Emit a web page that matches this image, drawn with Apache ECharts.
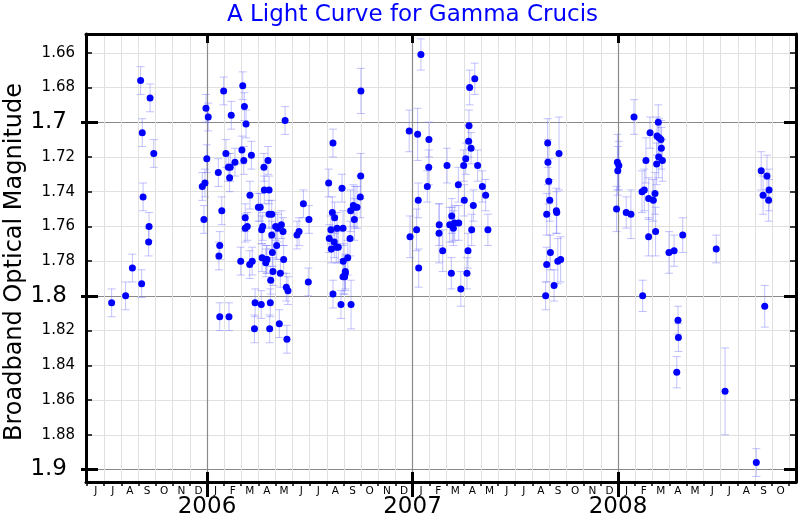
<!DOCTYPE html>
<html><head><meta charset="utf-8">
<script src="https://cdn.jsdelivr.net/npm/echarts@6/dist/echarts.min.js"></script>
<style>html,body{margin:0;padding:0;background:#fff}#c{width:800px;height:520px}</style>
</head><body><div id="c"></div>
<script>
// Observations: [decimal year, magnitude, error]
const obs2005 = [
 [2005.536,1.804,0.008],[2005.604,1.800,0.008],[2005.637,1.784,0.008],[2005.677,1.676,0.008],
 [2005.682,1.793,0.008],[2005.685,1.706,0.008],[2005.689,1.743,0.008],[2005.716,1.769,0.008],
 [2005.718,1.760,0.008],[2005.723,1.686,0.008],[2005.741,1.718,0.008]
];
const obs2006a = [
 [2005.977,1.737,0.008],[2005.985,1.756,0.008],[2005.990,1.735,0.008],[2005.995,1.692,0.008],
 [2005.999,1.721,0.008],[2006.006,1.697,0.008],[2006.055,1.729,0.008],[2006.058,1.777,0.008],
 [2006.062,1.771,0.008],[2006.062,1.812,0.008],[2006.072,1.751,0.008],[2006.081,1.682,0.008],
 [2006.092,1.718,0.008],[2006.104,1.726,0.008],[2006.107,1.812,0.008],[2006.110,1.732,0.008],
 [2006.113,1.726,0.008],[2006.118,1.696,0.008],[2006.136,1.723,0.008],[2006.164,1.780,0.008],
 [2006.170,1.716,0.008],[2006.174,1.679,0.008],[2006.179,1.722,0.008],[2006.182,1.691,0.008],
 [2006.186,1.755,0.008],[2006.186,1.761,0.008],[2006.190,1.701,0.008],[2006.196,1.760,0.008],
 [2006.208,1.782,0.008],[2006.209,1.742,0.008],[2006.216,1.719,0.008],[2006.220,1.780,0.008],
 [2006.231,1.819,0.008],[2006.234,1.804,0.008],[2006.250,1.749,0.008],[2006.259,1.749,0.008],
 [2006.264,1.805,0.008],[2006.266,1.762,0.008],[2006.268,1.778,0.008],[2006.271,1.760,0.008],
 [2006.277,1.726,0.008],[2006.279,1.739,0.008],[2006.286,1.781,0.008],[2006.289,1.779,0.008],
 [2006.292,1.779,0.008],[2006.297,1.722,0.008],[2006.302,1.739,0.008],[2006.302,1.753,0.008],
 [2006.305,1.819,0.008],[2006.308,1.804,0.008],[2006.310,1.791,0.008],[2006.315,1.753,0.008],
 [2006.315,1.765,0.008],[2006.318,1.775,0.008],[2006.321,1.786,0.008],[2006.334,1.760,0.008],
 [2006.339,1.771,0.008],[2006.344,1.761,0.008],[2006.352,1.816,0.008],[2006.357,1.787,0.008],
 [2006.362,1.759,0.008],[2006.370,1.763,0.008],[2006.373,1.779,0.008],[2006.380,1.699,0.008],
 [2006.386,1.795,0.008],[2006.389,1.825,0.008],[2006.394,1.797,0.008],[2006.438,1.765,0.008],
 [2006.448,1.763,0.008],[2006.469,1.747,0.008],[2006.493,1.792,0.008],[2006.496,1.756,0.008]
];
const obs2006b = [
 [2006.592,1.735,0.008],[2006.595,1.767,0.008],[2006.603,1.762,0.008],[2006.605,1.773,0.008],
 [2006.610,1.752,0.009],[2006.613,1.712,0.008],[2006.613,1.799,0.008],[2006.619,1.769,0.009],
 [2006.621,1.755,0.009],[2006.629,1.772,0.009],[2006.633,1.761,0.009],[2006.639,1.772,0.009],
 [2006.652,1.805,0.008],[2006.657,1.738,0.008],[2006.662,1.761,0.010],[2006.662,1.789,0.010],
 [2006.663,1.780,0.010],[2006.670,1.789,0.010],[2006.673,1.786,0.010],[2006.673,1.787,0.010],
 [2006.685,1.778,0.010],[2006.696,1.767,0.010],[2006.699,1.751,0.012],[2006.701,1.805,0.014],
 [2006.712,1.748,0.012],[2006.717,1.756,0.012],[2006.720,1.749,0.012],[2006.730,1.749,0.012],
 [2006.746,1.743,0.012],[2006.748,1.731,0.013],[2006.749,1.682,0.013]
];
const obs2007a = [
 [2006.984,1.705,0.012],[2006.988,1.766,0.012],[2007.020,1.762,0.012],[2007.025,1.707,0.015],
 [2007.028,1.745,0.010],[2007.030,1.784,0.011],[2007.041,1.661,0.009],[2007.072,1.737,0.009],
 [2007.079,1.726,0.010],[2007.080,1.710,0.010],[2007.129,1.764,0.017],[2007.130,1.759,0.012],
 [2007.147,1.774,0.012],[2007.168,1.725,0.010],[2007.181,1.759,0.010],[2007.189,1.787,0.009],
 [2007.191,1.754,0.010],[2007.194,1.759,0.010],[2007.199,1.761,0.010],[2007.205,1.758,0.010],
 [2007.223,1.736,0.010],[2007.225,1.758,0.010],[2007.235,1.796,0.010],[2007.249,1.725,0.009],
 [2007.252,1.745,0.009],[2007.259,1.721,0.009],[2007.265,1.787,0.009],[2007.270,1.774,0.010],
 [2007.273,1.711,0.009],[2007.275,1.702,0.009],[2007.278,1.680,0.010],[2007.285,1.715,0.009],
 [2007.288,1.762,0.009],[2007.296,1.748,0.009],[2007.303,1.675,0.009],[2007.317,1.725,0.009],
 [2007.340,1.737,0.009],[2007.356,1.742,0.009],[2007.367,1.762,0.009]
];
const obs2007b = [
 [2007.648,1.800,0.008],[2007.653,1.753,0.012],[2007.653,1.782,0.010],[2007.658,1.712,0.014],
 [2007.659,1.723,0.013],[2007.663,1.734,0.013],[2007.668,1.745,0.012],[2007.671,1.775,0.010],
 [2007.689,1.794,0.009],[2007.700,1.751,0.013],[2007.702,1.752,0.012],[2007.707,1.780,0.013],
 [2007.713,1.718,0.021],[2007.721,1.779,0.013]
];
const obs2008 = [
 [2007.993,1.750,0.013],[2007.997,1.723,0.016],[2007.999,1.728,0.014],[2008.004,1.725,0.014],
 [2008.040,1.752,0.009],[2008.063,1.753,0.014],[2008.078,1.697,0.010],[2008.117,1.740,0.012],
 [2008.120,1.800,0.009],[2008.128,1.739,0.012],[2008.136,1.722,0.013],[2008.149,1.744,0.012],
 [2008.149,1.766,0.011],[2008.156,1.706,0.009],[2008.172,1.745,0.012],[2008.180,1.741,0.012],
 [2008.183,1.763,0.014],[2008.188,1.724,0.012],[2008.190,1.708,0.011],[2008.196,1.700,0.010],
 [2008.198,1.720,0.012],[2008.200,1.709,0.011],[2008.209,1.710,0.011],[2008.211,1.715,0.012],
 [2008.216,1.722,0.012],[2008.248,1.775,0.012],[2008.273,1.774,0.009],[2008.286,1.844,0.009],
 [2008.292,1.814,0.008],[2008.294,1.824,0.008],[2008.315,1.765,0.010],[2008.478,1.773,0.008],
 [2008.521,1.855,0.025],[2008.673,1.896,0.008],[2008.697,1.728,0.011],[2008.706,1.742,0.011],
 [2008.714,1.806,0.012],[2008.725,1.731,0.012],[2008.733,1.745,0.012],[2008.735,1.739,0.012]
];

const monthLetters = ['J','F','M','A','M','J','J','A','S','O','N','D'];
const yearTicks = [2006, 2007, 2008];
const minorMagTicks = [1.66,1.68,1.72,1.74,1.76,1.78,1.82,1.84,1.86,1.88];
const majorMagTicks = [1.7,1.8,1.9];
const xMin = 2005.4112, xMax = 2008.8662;
const yMin = 1.6492, yMax = 1.9072;

const monthTicks = [], monthMids = [];
for (let k = 5; k <= 46; k++) { monthTicks.push(2005 + k / 12); monthMids.push(2005 + (k + 0.5) / 12); }

const allObs = [].concat(obs2005, obs2006a, obs2006b, obs2007a, obs2007b, obs2008);
const points = allObs.map(d => [d[0], d[1]]);
const bars = allObs.map(d => [d[0], d[1] - d[2], d[1] + d[2]]);

const FONT = 'DejaVu Sans';
const chart = echarts.init(document.getElementById('c'), null, {renderer: 'canvas'});

const xBase = {type: 'value', min: xMin, max: xMax, gridIndex: 0};
const yBase = {type: 'value', min: yMin, max: yMax, inverse: true, gridIndex: 0};

chart.setOption({
  animation: false,
  backgroundColor: '#ffffff',
  title: {
    text: 'A Light Curve for Gamma Crucis', left: 227, top: 4, padding: 0,
    textStyle: {color: '#0000ff', fontSize: 23, fontWeight: 'normal', fontFamily: FONT}
  },
  graphic: [{
    type: 'text', x: 15, y: 262, rotation: Math.PI / 2,
    style: {text: 'Broadband Optical Magnitude', font: '24px "DejaVu Sans"', fill: '#000',
            textAlign: 'center', textVerticalAlign: 'middle'}
  }],
  grid: {left: 86, right: 4, top: 34, bottom: 38, containLabel: false},
  xAxis: [
    Object.assign({}, xBase, {
      position: 'bottom',
      axisLine: {show: true, lineStyle: {color: '#000', width: 3}},
      axisTick: {show: true, customValues: monthTicks, length: 4, inside: false, lineStyle: {color: '#000', width: 1.5}},
      axisLabel: {show: true, customValues: monthMids, margin: 4, fontSize: 10.5, color: '#000', fontFamily: FONT,
        formatter: v => monthLetters[((Math.round((v - 2005) * 12 - 0.5)) % 12 + 12) % 12]},
      splitLine: {show: true, lineStyle: {color: '#e0e0e0', width: 1}}
    }),
    Object.assign({}, xBase, {
      position: 'bottom',
      axisLine: {show: false},
      axisTick: {show: true, customValues: yearTicks, length: 15, inside: false, lineStyle: {color: '#000', width: 3}},
      axisLabel: {show: true, customValues: yearTicks, margin: 14, fontSize: 23, color: '#000', fontFamily: FONT,
        formatter: v => String(Math.round(v))},
      splitLine: {show: true, lineStyle: {color: '#8a8a8a', width: 1.2}}
    }),
    Object.assign({}, xBase, {
      position: 'bottom',
      axisLine: {show: false},
      axisTick: {show: true, customValues: yearTicks, length: 10, inside: true, lineStyle: {color: '#000', width: 3}},
      axisLabel: {show: false},
      splitLine: {show: false}
    }),
    Object.assign({}, xBase, {
      position: 'top',
      axisLine: {show: true, lineStyle: {color: '#000', width: 3}},
      axisTick: {show: true, customValues: yearTicks, length: 9, inside: true, lineStyle: {color: '#000', width: 3}},
      axisLabel: {show: false},
      splitLine: {show: false}
    })
  ],
  yAxis: [
    Object.assign({}, yBase, {
      position: 'left',
      axisLine: {show: true, lineStyle: {color: '#000', width: 3}},
      axisTick: {show: true, customValues: minorMagTicks, length: 6, inside: true, lineStyle: {color: '#000', width: 1.5}},
      axisLabel: {show: true, customValues: minorMagTicks, margin: 11, fontSize: 15, color: '#000', fontFamily: FONT,
        formatter: v => v.toFixed(2)},
      splitLine: {show: true, lineStyle: {color: '#e0e0e0', width: 1}}
    }),
    Object.assign({}, yBase, {
      position: 'left',
      axisLine: {show: false},
      axisTick: {show: true, customValues: majorMagTicks, length: 12, inside: true, lineStyle: {color: '#000', width: 3}},
      axisLabel: {show: true, customValues: majorMagTicks, margin: 19, fontSize: 23, color: '#000', fontFamily: FONT,
        formatter: v => v.toFixed(1)},
      splitLine: {show: true, lineStyle: {color: '#8a8a8a', width: 1.2}}
    }),
    Object.assign({}, yBase, {
      position: 'left',
      axisLine: {show: false},
      axisTick: {show: true, customValues: majorMagTicks, length: 5, inside: false, lineStyle: {color: '#000', width: 3}},
      axisLabel: {show: false},
      splitLine: {show: false}
    }),
    Object.assign({}, yBase, {
      position: 'right',
      axisLine: {show: true, lineStyle: {color: '#000', width: 3}},
      axisTick: {show: true, customValues: minorMagTicks, length: 6, inside: true, lineStyle: {color: '#000', width: 1.5}},
      axisLabel: {show: false},
      splitLine: {show: false}
    }),
    Object.assign({}, yBase, {
      position: 'right',
      axisLine: {show: false},
      axisTick: {show: true, customValues: majorMagTicks, length: 12, inside: true, lineStyle: {color: '#000', width: 3}},
      axisLabel: {show: false},
      splitLine: {show: false}
    })
  ],
  series: [
    {
      type: 'custom', name: 'error', xAxisIndex: 0, yAxisIndex: 0, z: 3,
      data: bars, encode: {x: 0, y: [1, 2]},
      renderItem: function (params, api) {
        const x = api.value(0);
        const p1 = api.coord([x, api.value(1)]);
        const p2 = api.coord([x, api.value(2)]);
        const cap = 4;
        const st = {stroke: 'rgba(110,110,255,0.42)', lineWidth: 1, fill: null};
        return {type: 'group', children: [
          {type: 'line', shape: {x1: p1[0], y1: p1[1], x2: p2[0], y2: p2[1]}, style: st},
          {type: 'line', shape: {x1: p1[0] - cap, y1: p1[1], x2: p1[0] + cap, y2: p1[1]}, style: st},
          {type: 'line', shape: {x1: p2[0] - cap, y1: p2[1], x2: p2[0] + cap, y2: p2[1]}, style: st}
        ]};
      }
    },
    {
      type: 'scatter', name: 'magnitude', xAxisIndex: 0, yAxisIndex: 0, z: 4,
      data: points, symbol: 'circle', symbolSize: 7,
      itemStyle: {color: '#0000ff', opacity: 1}
    }
  ]
});
</script>
</body></html>
